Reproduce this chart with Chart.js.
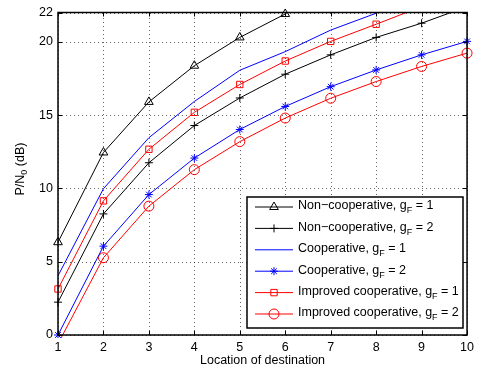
<!DOCTYPE html>
<html>
<head>
<meta charset="utf-8">
<script src="https://cdn.jsdelivr.net/npm/chart.js@4.4.0/dist/chart.umd.min.js"></script>
<style>
  body { margin: 0; background: #fff; }
  canvas { display: block; }
</style>
</head>
<body>
<canvas id="myLineChart" width="479" height="372"></canvas>
<script>
const locations = ['1', '2', '3', '4', '5', '6', '7', '8', '9', '10'];
const yTicks = [0, 5, 10, 15, 20, 22];

const nonCoopG1 = [6.33, 12.45, 15.9, 18.37, 20.3, 21.9, null, null, null, null];
const nonCoopG2 = [2.24, 8.26, 11.75, 14.29, 16.17, 17.79, 19.11, 20.3, 21.27, 22.4];
const coopG1 = [4.04, 9.98, 13.46, 15.93, 18.06, 19.33, 20.8, 21.95, null, null];
const coopG2 = [0.0, 6.06, 9.58, 12.07, 14.02, 15.59, 16.94, 18.08, 19.11, 20.03];
const improvedG1 = [3.14, 9.15, 12.67, 15.19, 17.09, 18.69, 20.03, 21.2, 22.4, null];
const improvedG2 = [-0.6, 5.27, 8.79, 11.28, 13.19, 14.8, 16.15, 17.29, 18.32, 19.23];

const legendNames = ['Non\u2212cooperative', 'Non\u2212cooperative', 'Cooperative', 'Cooperative',
  'Improved cooperative', 'Improved cooperative'];
const legendG = ['1', '2', '1', '2', '1', '2'];

const FONT = 'Liberation Sans, Arial, Helvetica, sans-serif';
const FS = 12.5;

function series(data, color, style, radius, clipTop) {
  return {
    data: data,
    borderColor: color,
    borderWidth: 1,
    pointStyle: style,
    pointRadius: radius,
    pointBorderColor: color,
    pointBackgroundColor: 'rgba(0,0,0,0)',
    pointBorderWidth: 1,
    pointHoverRadius: radius,
    tension: 0,
    spanGaps: false,
    clip: { left: 8, right: 8, top: clipTop, bottom: 3 }
  };
}

// dotted grid under the lines
const dottedGrid = {
  id: 'dottedGrid',
  beforeDatasetsDraw(chart) {
    const ctx = chart.ctx;
    const area = chart.chartArea;
    const xs = chart.scales.x;
    const ys = chart.scales.y;
    ctx.save();
    ctx.strokeStyle = 'rgba(0,0,0,0.6)';
    ctx.lineWidth = 1;
    ctx.setLineDash([1, 3]);
    ctx.beginPath();
    locations.forEach((l, i) => {
      const px = Math.round(xs.getPixelForValue(i)) + 0.5;
      ctx.moveTo(px, area.bottom);
      ctx.lineTo(px, area.top);
    });
    yTicks.forEach(v => {
      const py = Math.round(ys.getPixelForValue(v)) + 0.5;
      ctx.moveTo(area.left, py);
      ctx.lineTo(area.right, py);
    });
    ctx.stroke();
    ctx.restore();
  }
};

// draws the box, inward ticks, axis titles and the legend like MATLAB does
const matlabDecor = {
  id: 'matlabDecor',
  afterDraw(chart) {
    const ctx = chart.ctx;
    const area = chart.chartArea;
    const xs = chart.scales.x;
    const ys = chart.scales.y;
    ctx.save();

    // tick marks pointing inward
    ctx.strokeStyle = '#000';
    ctx.lineWidth = 1;
    ctx.beginPath();
    locations.forEach((l, i) => {
      const px = Math.round(xs.getPixelForValue(i)) + 0.5;
      ctx.moveTo(px, area.bottom); ctx.lineTo(px, area.bottom - 4);
      ctx.moveTo(px, area.top); ctx.lineTo(px, area.top + 4);
    });
    yTicks.forEach(v => {
      const py = Math.round(ys.getPixelForValue(v)) + 0.5;
      ctx.moveTo(area.left, py); ctx.lineTo(area.left + 4, py);
      ctx.moveTo(area.right, py); ctx.lineTo(area.right - 4, py);
    });
    ctx.stroke();

    // axes box
    ctx.lineWidth = 1.5;
    ctx.strokeRect(area.left, area.top, area.right - area.left, area.bottom - area.top);

    // x title
    ctx.fillStyle = '#000';
    ctx.font = FS + 'px ' + FONT;
    ctx.textAlign = 'center';
    ctx.textBaseline = 'middle';
    ctx.fillText('Location of destination', (area.left + area.right) / 2, 361);

    // y title with subscript
    ctx.save();
    ctx.translate(21, 169);
    ctx.rotate(-Math.PI / 2);
    ctx.textAlign = 'left';
    const p1 = 'P/N', p2 = '0', p3 = ' (dB)';
    ctx.font = FS + 'px ' + FONT;
    const w1 = ctx.measureText(p1).width;
    const w3 = ctx.measureText(p3).width;
    ctx.font = '9px ' + FONT;
    const w2 = ctx.measureText(p2).width;
    const sx = -(w1 + w2 + w3) / 2;
    ctx.font = FS + 'px ' + FONT;
    ctx.fillText(p1, sx, 0);
    ctx.font = '9px ' + FONT;
    ctx.fillText(p2, sx + w1, 4);
    ctx.font = FS + 'px ' + FONT;
    ctx.fillText(p3, sx + w1 + w2, 0);
    ctx.restore();

    // legend
    const bx = 247, by = 197, bw = 216, bh = 131;
    ctx.fillStyle = '#fff';
    ctx.fillRect(bx, by, bw, bh);
    ctx.lineWidth = 1.5;
    ctx.strokeStyle = '#000';
    ctx.strokeRect(bx, by, bw, bh);

    chart.data.datasets.forEach((ds, i) => {
      const ry = 207 + i * 21.4;
      ctx.strokeStyle = ds.borderColor;
      ctx.lineWidth = 1;
      ctx.beginPath();
      ctx.moveTo(255, ry);
      ctx.lineTo(293, ry);
      ctx.stroke();
      if (ds.pointRadius > 0) {
        ctx.fillStyle = 'rgba(0,0,0,0)';
        Chart.helpers.drawPoint(ctx, {
          pointStyle: ds.pointStyle, radius: ds.pointRadius, borderWidth: 1, rotation: 0
        }, 274, ry);
      }
      ctx.fillStyle = '#000';
      ctx.textAlign = 'left';
      ctx.font = FS + 'px ' + FONT;
      const t1 = legendNames[i] + ', g';
      ctx.fillText(t1, 298, ry - 1);
      let tx = 298 + ctx.measureText(t1).width;
      ctx.font = '9px ' + FONT;
      ctx.fillText('F', tx, ry + 4);
      tx += ctx.measureText('F').width;
      ctx.font = FS + 'px ' + FONT;
      ctx.fillText(' = ' + legendG[i], tx, ry - 1);
    });

    ctx.restore();
  }
};

const ctx = document.getElementById('myLineChart').getContext('2d');
new Chart(ctx, {
  type: 'line',
  data: {
    labels: locations,
    datasets: [
      series(nonCoopG1, '#000000', 'triangle', 5, 6),
      series(nonCoopG2, '#000000', 'cross', 4, 0),
      series(coopG1, '#0000ff', 'circle', 0, 0),
      series(coopG2, '#0000ff', 'star', 4, 0),
      series(improvedG1, '#ff0000', 'rect', 4.5, 0),
      series(improvedG2, '#ff0000', 'circle', 5, 0)
    ]
  },
  options: {
    responsive: false,
    animation: false,
    layout: { padding: { top: 8, right: 8, left: 0, bottom: 0 } },
    plugins: {
      legend: { display: false },
      tooltip: { enabled: false }
    },
    scales: {
      x: {
        offset: false,
        grid: { display: false, drawTicks: false },
        border: { display: false },
        ticks: { color: '#000', font: { family: FONT, size: FS }, padding: 5, maxRotation: 0, autoSkip: false },
        afterFit(scale) { scale.height = 37; }
      },
      y: {
        min: 0,
        max: 22,
        grid: { display: false, drawTicks: false },
        border: { display: false },
        ticks: { color: '#000', font: { family: FONT, size: FS }, padding: 5 },
        afterBuildTicks(scale) { scale.ticks = yTicks.map(v => ({ value: v })); },
        afterFit(scale) { scale.width = 58; }
      }
    }
  },
  plugins: [dottedGrid, matlabDecor]
});
</script>
</body>
</html>
